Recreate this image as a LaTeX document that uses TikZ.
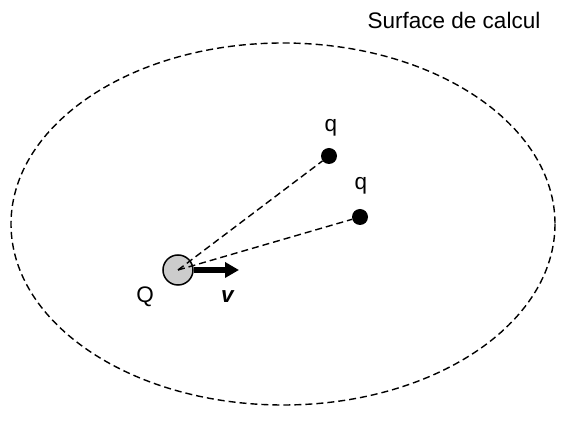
\documentclass[tikz,border=0pt]{standalone}
\usepackage{fontspec}
\setmainfont{Liberation Sans}
\usetikzlibrary{arrows.meta}
\begin{document}
\begin{tikzpicture}[x=1pt,y=-1pt,
  lbl/.style={font=\fontsize{22.5}{26}\selectfont, inner sep=0pt},
  charge/.style={circle, fill=black, minimum size=16pt, inner sep=0pt},
  bigcharge/.style={circle, draw=black, line width=1.5pt, fill=black!20, minimum size=30pt, inner sep=0pt},
  dline/.style={dashed, dash pattern=on 7pt off 4pt, line width=1.4pt}]
\useasboundingbox (0,0) rectangle (571,435);
\draw[dline] (283,224) ellipse [x radius=272, y radius=181];
\node[bigcharge] (Q) at (178,270) {};
\node[charge] (q1) at (329,156) {};
\node[charge] (q2) at (360,217) {};
\draw[dline] (Q.center) -- (q1);
\draw[dline] (Q.center) -- (q2);
\coordinate (tip) at (239,270);
\draw[line width=5.5pt, -{Triangle[length=14pt,width=15pt]}] (Q.east) -- (tip);
\node[lbl] (tq1) at (331,128) {q};
\node[lbl] (tq2) at (361,186) {q};
\node[lbl] (tQ) at (145,297) {Q};
\node[lbl] (tv) at (228,297) {\textbf{\textit{v}}};
\node[lbl] (ts) at (454,20) {Surface de calcul};
\end{tikzpicture}
\end{document}
